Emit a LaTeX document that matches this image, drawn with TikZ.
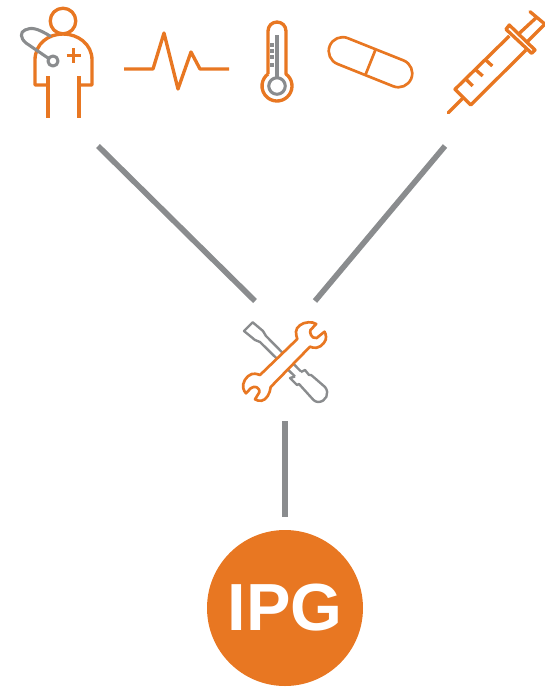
\documentclass[tikz,border=0pt]{standalone}
\usepackage{fontspec}
\setmainfont{Liberation Sans}
\definecolor{ipgorange}{HTML}{E87722}
\definecolor{linkgrey}{HTML}{8A8C8E}

\begin{document}
\begin{tikzpicture}[x=0.75pt, y=-0.75pt,
  iconline/.style={draw=ipgorange, line width=2.5pt, line join=round, fill=none},
  iconthin/.style={draw=ipgorange, line width=2pt, line join=round},
  greyline/.style={draw=linkgrey, line width=2.3pt, line join=round},
  greythin/.style={draw=linkgrey, line width=1.8pt, line join=round},
  linkline/.style={draw=linkgrey, line width=4.2pt}]

\useasboundingbox (0,0) rectangle (545,687);

% Doctor
\draw[iconline] (63,21) circle [radius=9.6pt];
\draw[iconline] (48,85) -- (35,85) -- (35,60) .. controls (35,44) and (48,34) .. (63,34)
  .. controls (78,34) and (92,44) .. (92,60) -- (92,85) -- (79,85);
\draw[iconline] (48,76) -- (48,118);
\draw[iconline] (79,76) -- (79,118);
\draw[iconline] (66.5,55.5) -- (81,55.5);
\draw[iconline] (73.8,48) -- (73.8,63);

% Stethoscope
\draw[greyline, fill=white] (53,61) circle [radius=3.8pt];
\draw[greyline, line cap=round] (48,58) -- (26,43) .. controls (20,38) and (20,32) .. (25,30)
  .. controls (31,27) and (37,28) .. (50,36);

% Pulse
\draw[iconline] (124,69) -- (153,69) -- (164,33) -- (178,89) -- (191,52) -- (200,69) -- (229,69);

% Thermometer
\draw[iconline] (268,74) -- (268,31) arc [start angle=180, end angle=0, radius=6.75pt]
  -- (286,74) arc [start angle=53.1, end angle=-233.1, radius=11.25pt];
\draw[greyline] (277,86) circle [radius=6.2pt];
\draw[greyline] (277,35) -- (277,78);
\foreach \y in {45,51,57,65} {
  \draw[greyline] (270,\y) -- (274,\y);
}

% Pill
\begin{scope}[shift={(370.5,62.2)}, rotate=-21.8]
  \draw[iconthin, rounded corners=10.4pt] (-43.9,-13.9) rectangle (43.9,13.9);
  \draw[iconthin] (0,-13.9) -- (0,13.9);
\end{scope}

% Syringe
\draw[iconline, line cap=round] (448.3,112.7) -- (462.7,98.3);
\draw[iconline] (509.3,36) -- (455,89.3) -- (470.7,105) -- (526,50);
\draw[iconline] (509.3,25) -- (535,50) -- (531.7,53.3) -- (506,29.3) -- cycle;
\draw[iconline] (519.3,33.3) -- (537.3,16.7);
\draw[iconline] (527.3,41.7) -- (545,24);
\draw[iconline, line cap=round] (530,11.7) -- (546,25);
\foreach \xa/\ya/\xb/\yb in {466.7/80/472.7/86, 476/70/482.7/76, 485/59.3/492.3/66} {
  \draw[iconline] (\xa,\ya) -- (\xb,\yb);
}

% Screwdriver
\draw[greythin] (301,371.5) -- (266,336) -- (263,331) -- (252.7,322.3) -- (244,331) -- (255,340) -- (260,342) -- (295,376.5);
\draw[greythin] (301,372) -- (305,370) -- (309,375) -- (311,375) -- (313.5,377) -- (325,387)
  .. controls (330,393) and (326,402) .. (318,402) .. controls (316,402) and (315,401) .. (313.5,400)
  -- (299,384) -- (297,385) -- (290,378) -- (295,376.5);

% Wrench
\draw[iconthin, fill=white] (260,375) .. controls (256,373.5) and (254,373.5) .. (251.7,374)
  .. controls (246,376) and (242,383) .. (243.3,388.3) .. controls (243.8,390) and (244.5,392) .. (246,393.3)
  -- (250.7,388.3) .. controls (253,386.5) and (255,386.5) .. (256.7,387.3)
  .. controls (259,388.5) and (260,390.5) .. (259.3,392.3) -- (255,399.3)
  .. controls (257,400.5) and (259,401) .. (261.7,400.7) .. controls (266,400) and (270,394) .. (270.7,387)
  -- (310,346.7)
  .. controls (312,347.5) and (314,348) .. (316.7,347.7) .. controls (322,347) and (327,340) .. (326,336.7)
  .. controls (325.8,335) and (325.5,333) .. (324.5,331.7) -- (316.7,338)
  .. controls (314,338.5) and (311.5,337) .. (311,335) .. controls (310,333) and (310,331.5) .. (310.5,330)
  -- (316.2,324) .. controls (314,322.5) and (311,322) .. (308.3,322.3)
  .. controls (302,322.5) and (296,327) .. (296,331.7) .. controls (296,334) and (296.5,337) .. (297.3,339)
  -- cycle;

% Links
\coordinate (doctorEnd) at (98,146);
\coordinate (syringeEnd) at (445,146);
\coordinate (toolsLeft) at (255,301);
\coordinate (toolsRight) at (315,301);
\coordinate (toolsBottom) at (285,421);
\coordinate (ipgTop) at (285,517);
\draw[linkline] (doctorEnd) -- (toolsLeft);
\draw[linkline] (syringeEnd) -- (toolsRight);
\draw[linkline] (toolsBottom) -- (ipgTop);

% IPG
\node[circle, fill=ipgorange, text=white, minimum size=117pt, inner sep=0pt,
  font=\fontsize{50}{50}\selectfont\bfseries] (ipg) at (285,608) {IPG};

\end{tikzpicture}
\end{document}
